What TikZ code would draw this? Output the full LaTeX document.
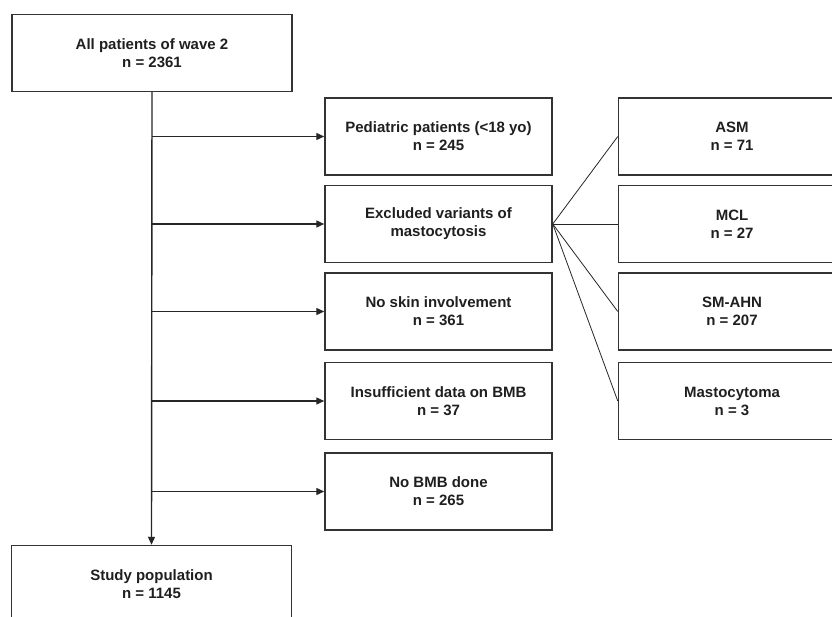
\documentclass[tikz,border=0pt]{standalone}
\usepackage{fontspec}
\setmainfont{Liberation Sans}
\usetikzlibrary{arrows.meta, positioning}

\begin{document}
\begin{tikzpicture}[
    x=1pt, y=-1pt,
    every node/.style={font=\fontsize{15}{18}\selectfont\bfseries, align=center, text=black!88},
    box/.style={draw=black!80, line width=1.5pt, minimum width=227pt, minimum height=77pt, inner sep=0pt},
    bigbox/.style={box, minimum width=280pt},
    arrow/.style={-{Triangle[length=8pt,width=7pt]}, draw=black!85, line width=1.4pt},
    fan/.style={draw=black!85, line width=0.8pt}
]
\useasboundingbox (0,0) rectangle (832,617);
\clip (0,0) rectangle (832,617);

% Nodes
\node[bigbox] (all) at (152,53) {All patients of wave 2\\n = 2361};

\node[box] (ped) at (438.5,136.5) {Pediatric patients (<18 yo)\\n = 245};
\node[box] (excl) [below=9pt of ped] {Excluded variants of\\mastocytosis};
\node[box] (noskin) [below=9pt of excl] {No skin involvement\\n = 361};
\node[box] (insuff) [below=11pt of noskin] {Insufficient data on BMB\\n = 37};
\node[box] (nobmb) [below=12pt of insuff] {No BMB done\\n = 265};

\node[box] (asm) [right=65pt of ped] {ASM\\n = 71};
\node[box] (mcl) [right=65pt of excl] {MCL\\n = 27};
\node[box] (smahn) [right=65pt of noskin] {SM-AHN\\n = 207};
\node[box] (masto) [right=65pt of insuff] {Mastocytoma\\n = 3};

\node[bigbox] (study) at (151.5,584) {Study population\\n = 1145};

% Main flow
\draw[arrow] (all.south) -- (study.north);

% Exclusions
\draw[arrow] (all.south |- ped.west) -- (ped.west);
\draw[arrow] (all.south |- excl.west) -- (excl.west);
\draw[arrow] (all.south |- noskin.west) -- (noskin.west);
\draw[arrow] (all.south |- insuff.west) -- (insuff.west);
\draw[arrow] (all.south |- nobmb.west) -- (nobmb.west);

% Variants of mastocytosis
\draw[fan] (excl.east) -- (asm.west);
\draw[fan] (excl.east) -- (mcl.west);
\draw[fan] (excl.east) -- (smahn.west);
\draw[fan] (excl.east) -- (masto.west);

\end{tikzpicture}
\end{document}
